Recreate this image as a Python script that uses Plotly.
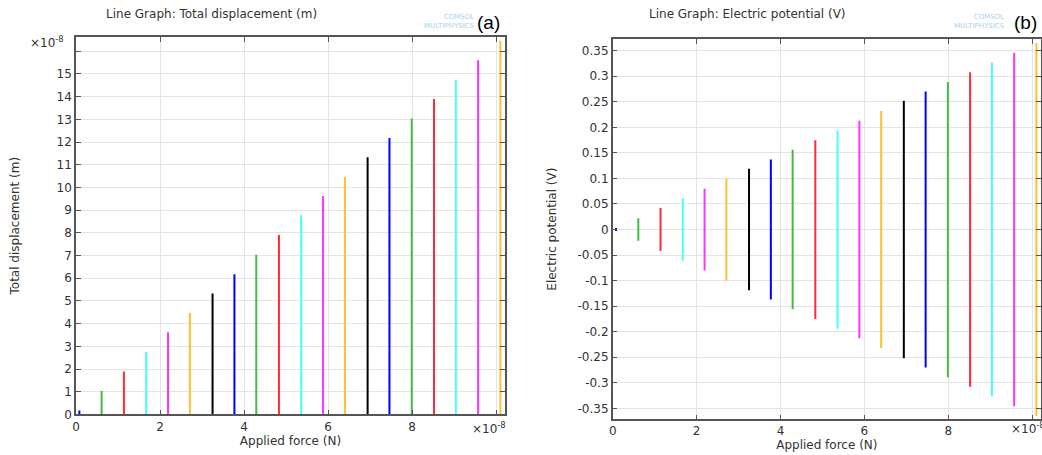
import plotly.graph_objects as go

# Applied force, in units of 1e-8 N
force_e8 = [0.08, 0.61, 1.14, 1.67, 2.19, 2.71, 3.25, 3.77, 4.29, 4.83,
            5.36, 5.88, 6.40, 6.94, 7.46, 7.99, 8.52, 9.04, 9.57, 10.10]

# Total displacement, in units of 1e-8 m (line drawn from 0 up to the value)
displacement_e8 = [0.17, 1.03, 1.89, 2.76, 3.62, 4.47, 5.33, 6.18, 7.04, 7.90,
                   8.77, 9.62, 10.47, 11.33, 12.18, 13.04, 13.90, 14.75, 15.60, 16.47]

# Electric potential amplitude (V), line drawn from -v to +v
potential_v = [0.003, 0.022, 0.042, 0.061, 0.080, 0.100, 0.119, 0.137, 0.156, 0.175,
               0.194, 0.213, 0.232, 0.252, 0.270, 0.289, 0.308, 0.327, 0.346, 0.365]

line_colors = ['#0000ff', '#44bb44', '#ff2a3a', '#44ffff', '#ff33ff', '#ffbf33', '#000000']

left_yticks = list(range(0, 17))
right_yticks = [-0.35, -0.3, -0.25, -0.2, -0.15, -0.1, -0.05, 0,
                0.05, 0.1, 0.15, 0.2, 0.25, 0.3, 0.35]
right_yticktext = ['-0.35', '-0.3', '-0.25', '-0.2', '-0.15', '-0.1', '-0.05', '0',
                   '0.05', '0.1', '0.15', '0.2', '0.25', '0.3', '0.35']
xticks = [0, 2, 4, 6, 8, 10]

W, H = 1042, 455
FONT = 'DejaVu Sans'
TXT = '#333333'

fig = go.Figure()

for i, (f, d, v) in enumerate(zip(force_e8, displacement_e8, potential_v)):
    c = line_colors[i % len(line_colors)]
    fig.add_trace(go.Scatter(x=[f, f], y=[0, d], mode='lines',
                             line=dict(color=c, width=2), showlegend=False,
                             xaxis='x', yaxis='y'))
    fig.add_trace(go.Scatter(x=[f, f], y=[-v, v], mode='lines',
                             line=dict(color=c, width=2), showlegend=False,
                             xaxis='x2', yaxis='y2'))


def px_x(p):
    return p / W


def px_y(p):
    return 1 - p / H


axis_common = dict(
    showline=True, linecolor='#555555', linewidth=1.5, mirror='allticks',
    ticks='inside', ticklen=5, tickcolor='#555555', automargin=False,
    showgrid=True, gridcolor='#e4e4e4', gridwidth=1,
    zeroline=False, tickfont=dict(family=FONT, size=12, color=TXT),
)
title_font = dict(family=FONT, size=12, color=TXT)

fig.update_layout(
    width=W, height=H,
    margin=dict(l=0, r=0, t=0, b=0),
    paper_bgcolor='white', plot_bgcolor='white',
    font=dict(family=FONT, size=12, color=TXT),
    xaxis=dict(axis_common, domain=[px_x(76), px_x(505)], range=[0, 10.21],
               tickvals=xticks, ticktext=['0', '2', '4', '6', '8', ''], anchor='y',
               title=dict(text='Applied force (N)', standoff=1, font=title_font)),
    yaxis=dict(axis_common, domain=[px_y(414.4), px_y(37)], range=[0, 16.63],
               tickvals=left_yticks,
               ticktext=[str(t) for t in left_yticks[:-1]] + [''], anchor='x',
               title=dict(text='Total displacement (m)', standoff=34, font=title_font)),
    xaxis2=dict(axis_common, domain=[px_x(612.7), px_x(1041)], range=[0, 10.21],
                tickvals=xticks, ticktext=['0', '2', '4', '6', '8', ''], anchor='y2',
                title=dict(text='Applied force (N)', standoff=1, font=title_font)),
    yaxis2=dict(axis_common, domain=[px_y(419.3), px_y(39)], range=[-0.3715, 0.373],
                tickvals=right_yticks, ticktext=right_yticktext, anchor='x2',
                title=dict(text='Electric potential (V)', standoff=18, font=title_font)),
)

annotations = [
    # titles
    dict(x=px_x(211), y=px_y(14), text='Line Graph: Total displacement (m)'),
    dict(x=px_x(747), y=px_y(14), text='Line Graph: Electric potential (V)'),
    # multipliers
    dict(x=px_x(66), y=px_y(42), text='×10<sup>-8</sup>', xanchor='right'),
    dict(x=px_x(470), y=px_y(428), text='×10<sup>-8</sup>', xanchor='left'),
    dict(x=px_x(1009), y=px_y(428), text='×10<sup>-8</sup>', xanchor='left'),
]
base = dict(xref='paper', yref='paper', showarrow=False, xanchor='center', yanchor='middle',
            font=dict(family=FONT, size=12, color=TXT))
for a in annotations:
    fig.add_annotation({**base, **a})

# panel labels and watermark
for lx, logo_x, lab in [(502, 477, '(a)'), (1039, 1007, '(b)')]:
    fig.add_annotation(xref='paper', yref='paper', x=px_x(lx), y=px_y(22), text=lab,
                       showarrow=False, xanchor='right', yanchor='middle',
                       font=dict(family='Liberation Sans', size=19, color='#000000'))
    fig.add_annotation(xref='paper', yref='paper', x=px_x(logo_x), y=px_y(21),
                       text='COMSOL<br>MULTIPHYSICS', showarrow=False,
                       xanchor='right', yanchor='middle', align='right',
                       font=dict(family=FONT, size=7, color='#a9d2ec'))

# drop the default 8px page margin so the figure sits flush in the window
fig.write_html("out.html", config={'displayModeBar': False},
               post_script="document.body.style.margin='0';")
